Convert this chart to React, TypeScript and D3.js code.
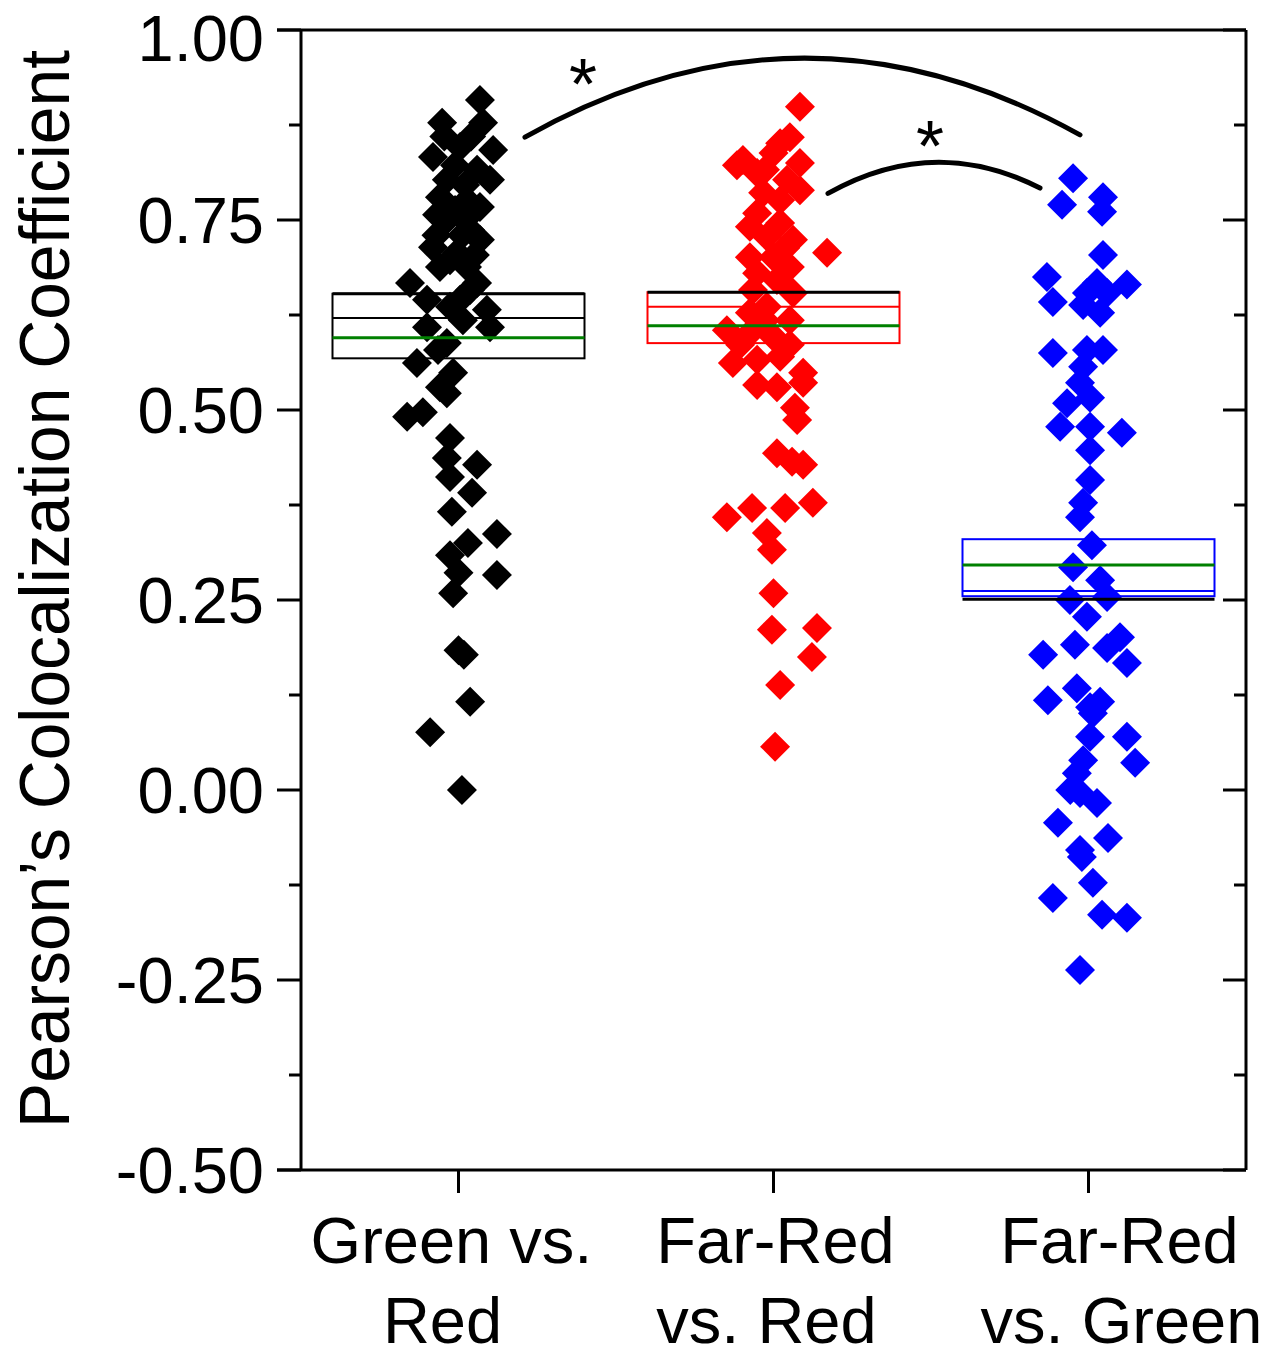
import React from "react";
import * as d3 from "d3";

// ---------- DATA ----------
const categories = [
  ["Green vs.", "Red"],
  ["Far-Red", "vs. Red"],
  ["Far-Red", "vs. Green"],
];
const seriesColors = ["#000000", "#ff0000", "#0000ff"];

// [x jitter (category units), Pearson's coefficient]
const greenVsRed: [number, number][] = [
  [0.068, 0.908], [-0.052, 0.878], [0.078, 0.878], [0.11, 0.842], [-0.081, 0.833],
  [0.005, 0.846], [0.059, 0.816], [-0.037, 0.803], [-0.059, 0.78], [0.027, 0.776],
  [0.068, 0.767], [-0.037, 0.75], [0.037, 0.737], [0.068, 0.724], [-0.081, 0.714],
  [-0.005, 0.707], [0.027, 0.688], [-0.059, 0.688], [0.059, 0.667], [-0.154, 0.667],
  [-0.1, 0.645], [-0.027, 0.636], [0.09, 0.632], [0.1, 0.609], [-0.1, 0.609],
  [-0.037, 0.588], [-0.132, 0.562], [-0.017, 0.549], [-0.059, 0.53], [-0.037, 0.522],
  [-0.163, 0.491], [-0.113, 0.497], [-0.027, 0.463], [-0.037, 0.437], [0.059, 0.428],
  [-0.027, 0.412], [0.043, 0.391], [-0.021, 0.366], [0.122, 0.337], [0.03, 0.325],
  [-0.027, 0.309], [0.0, 0.286], [0.122, 0.283], [-0.017, 0.259], [0.0, 0.184],
  [0.017, 0.178], [0.037, 0.116], [-0.09, 0.076], [0.011, 0.0], [-0.011, 0.822],
  [0.021, 0.796], [-0.011, 0.763], [0.011, 0.73], [-0.027, 0.697], [0.037, 0.658],
  [0.005, 0.645], [-0.068, 0.757], [0.052, 0.704], [0.1, 0.803], [0.014, 0.618],
  [-0.065, 0.579], [-0.045, 0.86], [0.04, 0.86], [-0.07, 0.73], [0.02, 0.75],
];
const farRedVsRed: [number, number][] = [
  [0.084, 0.899], [0.052, 0.859], [0.021, 0.851], [-0.097, 0.829], [0.0, 0.838],
  [0.084, 0.825], [-0.052, 0.812], [0.043, 0.803], [0.084, 0.789], [-0.033, 0.786],
  [0.021, 0.776], [-0.052, 0.759], [-0.075, 0.741], [0.021, 0.746], [-0.021, 0.728],
  [0.062, 0.724], [0.17, 0.707], [-0.075, 0.701], [0.0, 0.701], [-0.052, 0.68],
  [0.052, 0.688], [-0.065, 0.658], [0.062, 0.654], [0.011, 0.671], [-0.021, 0.636],
  [-0.075, 0.628], [-0.148, 0.605], [-0.075, 0.601], [0.0, 0.596], [-0.129, 0.562],
  [-0.052, 0.566], [0.021, 0.57], [0.094, 0.549], [-0.052, 0.533], [0.011, 0.53],
  [0.094, 0.536], [0.068, 0.503], [0.075, 0.487], [0.011, 0.443], [0.059, 0.432],
  [0.094, 0.428], [-0.148, 0.359], [-0.068, 0.371], [0.037, 0.371], [0.125, 0.378],
  [-0.021, 0.338], [-0.005, 0.316], [0.0, 0.259], [-0.005, 0.211], [0.138, 0.213],
  [0.122, 0.175], [0.021, 0.138], [0.005, 0.057], [-0.027, 0.816], [-0.116, 0.822],
  [0.037, 0.713], [-0.027, 0.618], [0.052, 0.618], [-0.106, 0.586], [0.052, 0.586],
];
const farRedVsGreen: [number, number][] = [
  [-0.049, 0.805], [0.046, 0.78], [-0.084, 0.77], [0.043, 0.761], [0.046, 0.704],
  [-0.132, 0.675], [0.122, 0.665], [0.027, 0.667], [-0.005, 0.654], [-0.113, 0.642],
  [-0.017, 0.638], [0.037, 0.628], [0.059, 0.654], [-0.113, 0.575], [-0.005, 0.579],
  [0.046, 0.579], [-0.017, 0.557], [-0.027, 0.536], [-0.068, 0.509], [0.005, 0.516],
  [-0.09, 0.478], [0.005, 0.478], [0.106, 0.47], [0.005, 0.447], [0.005, 0.408],
  [-0.017, 0.378], [-0.027, 0.359], [0.011, 0.322], [-0.049, 0.293], [0.037, 0.276],
  [0.059, 0.254], [-0.059, 0.25], [-0.005, 0.228], [-0.144, 0.178], [-0.043, 0.191],
  [0.059, 0.187], [0.1, 0.201], [0.122, 0.167], [-0.129, 0.118], [-0.037, 0.134],
  [0.037, 0.116], [0.014, 0.101], [0.122, 0.07], [0.005, 0.07], [0.148, 0.036],
  [-0.017, 0.039], [-0.037, 0.022], [-0.027, -0.004], [0.027, -0.017], [-0.097, -0.043],
  [0.062, -0.063], [-0.027, -0.079], [-0.021, -0.088], [0.014, -0.122], [-0.113, -0.142],
  [0.043, -0.164], [0.122, -0.168], [-0.027, -0.237], [0.005, 0.109], [-0.058, 0.0],
];
const series = [greenVsRed, farRedVsRed, farRedVsGreen];

// box statistics per category
const boxTop = [0.653, 0.655, 0.33];
const boxBottom = [0.568, 0.588, 0.255];
const boxMedian = [0.621, 0.636, 0.262];
const boxMean = [0.595, 0.611, 0.296];
const blackRef = [0.653, 0.655, 0.251];

const yTicks = [1.0, 0.75, 0.5, 0.25, 0.0, -0.25, -0.5];
const yMinorTicks = [0.875, 0.625, 0.375, 0.125, -0.125, -0.375];

// significance brackets: [x0, y0, x1, y1, peakY, starX, starY]
const brackets = [
  [1.211, 0.859, 2.973, 0.862, 0.963, 1.395, 0.941],
  [2.173, 0.785, 2.846, 0.792, 0.826, 2.497, 0.859],
];

// label offsets (px) for the multi-line category labels
const labelDx = [[-7, -16], [2, -7], [31, 33]];

const fmt = (v: number) => d3.format(".2f")(v).replace("\u2212", "-");

export default function App() {
  const W = 1276, H = 1350;
  const left = 301, right = 1246, top = 30, bottom = 1170;
  const x = d3.scaleLinear().domain([0.5, 3.5]).range([left, right]);
  const y = d3.scaleLinear().domain([-0.5, 1.0]).range([bottom, top]);
  const r = 15;
  const diamond = `M0,${-r}L${r},0L0,${r}L${-r},0Z`;
  const font = "'Liberation Sans', Arial, sans-serif";
  const halfBox = 0.4;

  return (
    <svg width={W} height={H} style={{ position: "absolute", left: 0, top: 0, background: "#fff" }}>
      <rect width={W} height={H} fill="#fff" />
      {/* boxes */}
      {categories.map((_, i) => {
        const c = i + 1;
        const x0 = x(c - halfBox), x1 = x(c + halfBox);
        const col = seriesColors[i];
        return (
          <g key={"box" + i}>
            <rect x={x0} y={y(boxTop[i])} width={x1 - x0} height={y(boxBottom[i]) - y(boxTop[i])}
              fill="none" stroke={col} strokeWidth={2} />
            <line x1={x0} x2={x1} y1={y(boxMedian[i])} y2={y(boxMedian[i])} stroke={col} strokeWidth={2} />
          </g>
        );
      })}
      {/* points */}
      {series.map((pts, i) => (
        <g key={"s" + i} fill={seriesColors[i]}>
          {pts.map((p, j) => (
            <path key={j} d={diamond} transform={`translate(${x(i + 1 + p[0])},${y(p[1])})`} />
          ))}
        </g>
      ))}
      {/* mean & reference lines */}
      {categories.map((_, i) => {
        const c = i + 1;
        const x0 = x(c - halfBox), x1 = x(c + halfBox);
        return (
          <g key={"ml" + i}>
            <line x1={x0} x2={x1} y1={y(blackRef[i])} y2={y(blackRef[i])} stroke="#000" strokeWidth={3} />
            <line x1={x0} x2={x1} y1={y(boxMean[i])} y2={y(boxMean[i])} stroke="#008000" strokeWidth={3} />
          </g>
        );
      })}
      {/* frame */}
      <g stroke="#000" strokeWidth={3} fill="none">
        <line x1={left - 24} x2={right} y1={top} y2={top} />
        <line x1={left - 24} x2={right} y1={bottom} y2={bottom} />
        <line x1={left} x2={left} y1={top} y2={bottom} />
        <line x1={right} x2={right} y1={top} y2={bottom} />
        {yTicks.map((t) => (
          <g key={"t" + t}>
            <line x1={left - 24} x2={left} y1={y(t)} y2={y(t)} />
            <line x1={right - 23} x2={right} y1={y(t)} y2={y(t)} />
          </g>
        ))}
        {yMinorTicks.map((t) => (
          <g key={"m" + t}>
            <line x1={left - 12} x2={left} y1={y(t)} y2={y(t)} />
            <line x1={right - 12} x2={right} y1={y(t)} y2={y(t)} />
          </g>
        ))}
        {categories.map((_, i) => (
          <line key={"xt" + i} x1={x(i + 1)} x2={x(i + 1)} y1={bottom} y2={bottom + 23} />
        ))}
      </g>
      {/* y tick labels */}
      <g fontFamily={font} fontSize={65} textAnchor="end" fill="#000">
        {yTicks.map((t) => (
          <text key={"yl" + t} x={264} y={Math.max(y(t) + 23, 61)}>{fmt(t)}</text>
        ))}
      </g>
      {/* x labels */}
      <g fontFamily={font} fontSize={65} textAnchor="middle" fill="#000">
        {categories.map((lines, i) => (
          <g key={"xl" + i}>
            {lines.map((ln, k) => (
              <text key={k} x={x(i + 1) + labelDx[i][k]} y={1263 + k * 80}>{ln}</text>
            ))}
          </g>
        ))}
      </g>
      {/* y axis title */}
      <text fontFamily={font} fontSize={71} textAnchor="middle" transform={`translate(69,589) rotate(-90)`}
        textLength={1078} lengthAdjust="spacingAndGlyphs">Pearson’s Colocalization Coefficient</text>
      {/* significance brackets */}
      {brackets.map((b, i) => {
        const [bx0, by0, bx1, by1, peak, sx, sy] = b;
        const p0x = x(bx0), p0y = y(by0), p1x = x(bx1), p1y = y(by1);
        const cy = 2 * y(peak) - (p0y + p1y) / 2;
        const path = d3.path();
        path.moveTo(p0x, p0y);
        path.quadraticCurveTo((p0x + p1x) / 2, cy, p1x, p1y);
        return (
          <g key={"br" + i}>
            <path d={path.toString()} fill="none" stroke="#000" strokeWidth={5} strokeLinecap="round" />
            <text x={x(sx)} y={y(sy) + 34} fontFamily={font} fontSize={72} textAnchor="middle">*</text>
          </g>
        );
      })}
    </svg>
  );
}
